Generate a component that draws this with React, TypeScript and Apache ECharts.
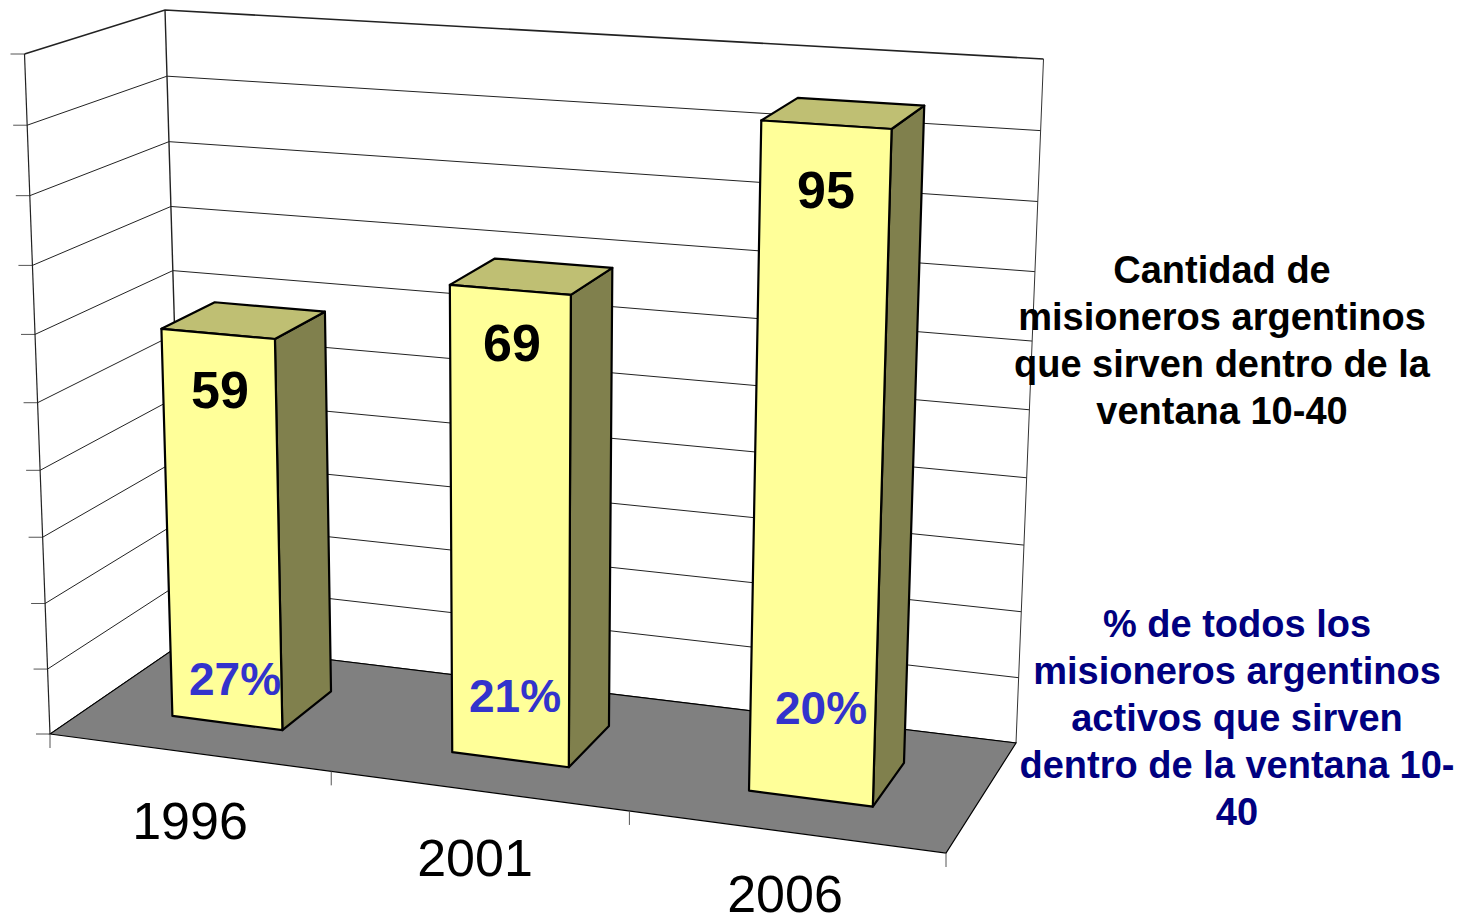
import React, { useEffect, useRef } from "react";
import * as echarts from "echarts";

const years = ["1996", "2001", "2006"];
const missionaries = [59, 69, 95];
const shares = ["27%", "21%", "20%"];
const yTicks = [0, 10, 20, 30, 40, 50, 60, 70, 80, 90, 100];

const blackNote = "Cantidad de\nmisioneros argentinos\nque sirven dentro de la\nventana 10-40";
const blueNote = "% de todos los\nmisioneros argentinos\nactivos que sirven\ndentro de la ventana 10-\n40";

// Projection of the 3D box onto the page
const FRONT = { bl: [50, 734], br: [946, 853], tl: [24.5, 54], tr: [970, 115] };
const BACK = { bl: [184, 642], br: [1016, 743], tl: [165, 10], tr: [1043.5, 59] };
const U_WARP = 0.915;
const V_WARP = 0.95;
const warp = (t: number, a: number) => (t * a) / (1 + (a - 1) * t);
const mix = (p: number[], q: number[], t: number) => [p[0] + (q[0] - p[0]) * t, p[1] + (q[1] - p[1]) * t];
function project(u: number, v: number, w: number) {
  const uu = warp(u, U_WARP);
  const vv = warp(v, V_WARP);
  const f = mix(mix(FRONT.bl, FRONT.br, uu), mix(FRONT.tl, FRONT.tr, uu), vv);
  const b = mix(mix(BACK.bl, BACK.br, uu), mix(BACK.tl, BACK.tr, uu), vv);
  return mix(f, b, w);
}

const BAR_W = 0.4;
const BAR_FRONT = 0.31;
const BAR_BACK = 0.715;
const VALUE_POS = [[220, 390], [512, 343], [826, 190]];
const SHARE_POS = [[235, 679], [515, 696], [821, 708]];
const YEAR_POS = [[190, 821], [475, 858], [785, 894]];
const FONT = '"Liberation Sans", Arial, sans-serif';

function norm(api: any, params: any, cat: number, val: number) {
  const c = api.coord([cat, val]);
  const s = params.coordSys;
  return { u: (c[0] - s.x) / s.width, v: (s.y + s.height - c[1]) / s.height };
}

export default function App() {
  const ref = useRef<HTMLDivElement>(null);
  useEffect(() => {
    document.body.style.margin = "0";
    const chart = echarts.init(ref.current!, undefined, { renderer: "svg" });
    chart.setOption({
      animation: false,
      backgroundColor: "#ffffff",
      grid: { left: 100, right: 100, top: 100, bottom: 100 },
      xAxis: { type: "category", data: years, show: false },
      yAxis: { type: "value", min: 0, max: 100, interval: 10, show: false },
      graphic: [
        {
          type: "text", x: 1222, y: 340, z: 20,
          style: { text: blackNote, font: `bold 38px ${FONT}`, lineHeight: 47, fill: "#000000", textAlign: "center", textVerticalAlign: "middle" },
        },
        {
          type: "text", x: 1237, y: 718, z: 20,
          style: { text: blueNote, font: `bold 38px ${FONT}`, lineHeight: 47, fill: "#000080", textAlign: "center", textVerticalAlign: "middle" },
        },
      ],
      series: [
        {
          type: "custom", name: "walls", coordinateSystem: "cartesian2d", clip: false, silent: true,
          data: yTicks.map((t) => [0, t]),
          renderItem: (params: any, api: any) => {
            const { v } = norm(api, params, 0, api.value(1));
            const isTop = api.value(1) === 100;
            const a = project(0, v, 0);
            const b = project(0, v, 1);
            const c = project(1, v, 1);
            const w = isTop ? 1.6 : 1;
            return {
              type: "group",
              children: [
                { type: "polyline", shape: { points: [[a[0] - 14, a[1]], a] }, style: { stroke: "#555", lineWidth: 1, fill: "none" } },
                { type: "polyline", shape: { points: [a, b, c] }, style: { stroke: "#222", lineWidth: w, fill: "none" } },
              ],
            };
          },
        },
        {
          type: "custom", name: "frame", coordinateSystem: "cartesian2d", clip: false, silent: true,
          data: [[0, 0]],
          renderItem: () => {
            const edge = (u: number, w: number) => [project(u, 0, w), project(u, 1, w)];
            return {
              type: "group",
              children: [
                { type: "polyline", shape: { points: edge(0, 0) }, style: { stroke: "#222", lineWidth: 1.2, fill: "none" } },
                { type: "polyline", shape: { points: edge(0, 1) }, style: { stroke: "#222", lineWidth: 1.4, fill: "none" } },
                { type: "polyline", shape: { points: edge(1, 1) }, style: { stroke: "#333", lineWidth: 1, fill: "none" } },
                {
                  type: "polygon",
                  shape: { points: [project(0, 0, 0), project(1, 0, 0), project(1, 0, 1), project(0, 0, 1)] },
                  style: { fill: "#808080", stroke: "#000", lineWidth: 1.2 },
                },
              ],
            };
          },
        },
        {
          type: "custom", name: "category ticks", coordinateSystem: "cartesian2d", clip: false, silent: true,
          data: [0, 1, 2, 3].map((k) => [k, 0]),
          renderItem: (params: any, api: any) => {
            const band = api.size([1, 0])[0] / params.coordSys.width;
            const p = project(api.value(0) * band, 0, 0);
            return { type: "polyline", shape: { points: [p, [p[0], p[1] + 14]] }, style: { stroke: "#555", lineWidth: 1, fill: "none" } };
          },
        },
        {
          type: "custom", name: "Misioneros", coordinateSystem: "cartesian2d", clip: false, silent: true,
          data: missionaries.map((m, i) => [i, m]),
          renderItem: (params: any, api: any) => {
            const i = api.value(0);
            const { u, v } = norm(api, params, i, api.value(1));
            const hw = ((api.size([1, 0])[0] / params.coordSys.width) * BAR_W) / 2;
            const l = u - hw;
            const r = u + hw;
            const flb = project(l, 0, BAR_FRONT), frb = project(r, 0, BAR_FRONT), brb = project(r, 0, BAR_BACK);
            const flt = project(l, v, BAR_FRONT), frt = project(r, v, BAR_FRONT), brt = project(r, v, BAR_BACK), blt = project(l, v, BAR_BACK);
            const edge = { stroke: "#000", lineWidth: 2.2, lineJoin: "round" };
            return {
              type: "group",
              children: [
                { type: "polygon", shape: { points: [frb, brb, brt, frt] }, style: { fill: "#80804D", ...edge } },
                { type: "polygon", shape: { points: [flt, frt, brt, blt] }, style: { fill: "#BFBF73", ...edge } },
                { type: "polygon", shape: { points: [flb, frb, frt, flt] }, style: { fill: "#FFFF99", ...edge } },
                {
                  type: "text", x: VALUE_POS[i][0], y: VALUE_POS[i][1],
                  style: { text: String(api.value(1)), font: `bold 52px ${FONT}`, fill: "#000", textAlign: "center", textVerticalAlign: "middle" },
                },
                {
                  type: "text", x: SHARE_POS[i][0], y: SHARE_POS[i][1],
                  style: { text: shares[i], font: `bold 46px ${FONT}`, fill: "#3333CC", textAlign: "center", textVerticalAlign: "middle" },
                },
                {
                  type: "text", x: YEAR_POS[i][0], y: YEAR_POS[i][1],
                  style: { text: years[i], font: `52px ${FONT}`, fill: "#000", textAlign: "center", textVerticalAlign: "middle" },
                },
              ],
            };
          },
        },
      ],
    });
    return () => chart.dispose();
  }, []);
  return <div ref={ref} style={{ width: 1465, height: 924 }} />;
}
